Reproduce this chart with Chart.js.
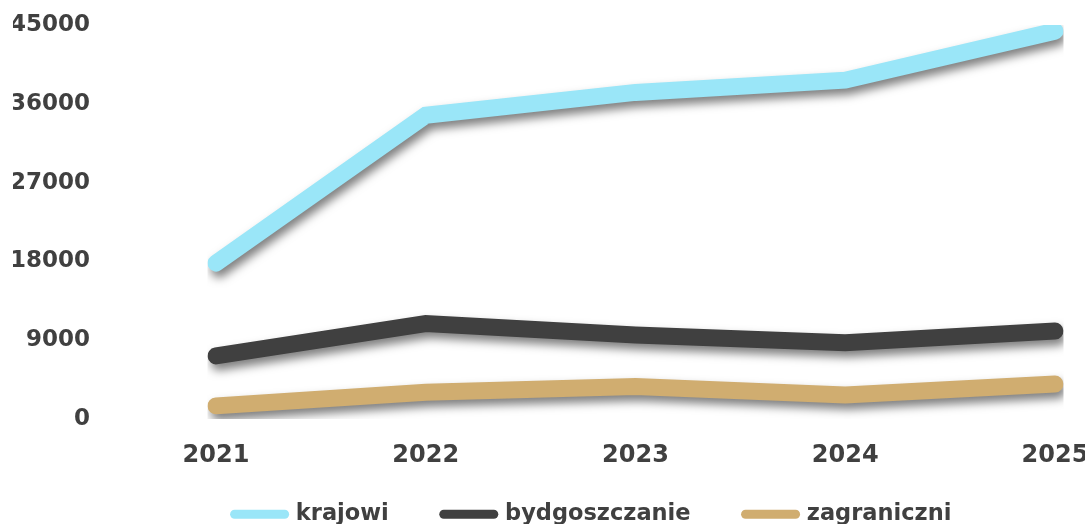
<!DOCTYPE html>
<html>
<head>
<meta charset="utf-8">
<script src="https://cdn.jsdelivr.net/npm/chart.js@4"></script>
<style>
    html, body { margin: 0; padding: 0; background: #fff; overflow: hidden; }
    .chart-wrap { position: relative; width: 1085px; height: 524px; }
</style>
</head>
<body>
<div class="chart-wrap"><canvas id="visitorsChart"></canvas></div>
<script>
// Chart data
const years = ['2021', '2022', '2023', '2024', '2025'];
const krajowi = [17800, 34700, 37300, 38700, 44300];
const bydgoszczanie = [7200, 10900, 9600, 8700, 10050];
const zagraniczni = [1500, 3050, 3700, 2750, 4000];
const yTicks = [0, 9000, 18000, 27000, 36000, 45000];

const textColor = '#404040';
const fontFamily = '"DejaVu Sans", sans-serif';

// Drop shadow under each line
const lineShadow = {
    id: 'lineShadow',
    beforeDatasetDraw(chart) {
        const ctx = chart.ctx;
        ctx.save();
        ctx.shadowColor = 'rgba(0, 0, 0, 0.5)';
        ctx.shadowBlur = 10;
        ctx.shadowOffsetX = 3;
        ctx.shadowOffsetY = 6;
    },
    afterDatasetDraw(chart) {
        chart.ctx.restore();
    }
};

// Move the legend row to where it sits in the design
const legendNudge = {
    id: 'legendNudge',
    afterLayout(chart) {
        const lg = chart.legend;
        const dx = 44, dy = -22;
        lg.left += dx;
        lg.right += dx;
        lg.top += dy;
        lg.bottom = lg.top + 100;
    }
};

function series(label, data, color) {
    return {
        label: label,
        data: data,
        borderColor: color,
        backgroundColor: color,
        borderWidth: 17,
        borderCapStyle: 'round',
        borderJoinStyle: 'miter',
        pointRadius: 0,
        pointHoverRadius: 0,
        pointStyle: 'line',
        tension: 0,
        fill: false
    };
}

new Chart(document.getElementById('visitorsChart'), {
    type: 'line',
    data: {
        labels: years,
        datasets: [
            series('krajowi', krajowi, '#9ae6f8'),
            series('bydgoszczanie', bydgoszczanie, '#404040'),
            series('zagraniczni', zagraniczni, '#d0ad70')
        ]
    },
    options: {
        responsive: true,
        maintainAspectRatio: false,
        animation: false,
        layout: {
            padding: { left: 13, top: 25, right: 0, bottom: 0 }
        },
        plugins: {
            tooltip: { enabled: false },
            legend: {
                position: 'bottom',
                maxHeight: 54,
                labels: {
                    usePointStyle: true,
                    pointStyleWidth: 50,
                    padding: 55,
                    color: textColor,
                    font: { family: fontFamily, size: 22.5, weight: 'bold' },
                    generateLabels(chart) {
                        const items = Chart.defaults.plugins.legend.labels.generateLabels(chart);
                        items.forEach(item => {
                            item.lineWidth = 9;
                            item.lineCap = 'round';
                        });
                        return items;
                    }
                }
            }
        },
        scales: {
            x: {
                offset: false,
                grid: { display: false, drawTicks: false },
                border: { display: false },
                ticks: {
                    padding: 22,
                    color: textColor,
                    maxRotation: 0,
                    font: { family: fontFamily, size: 24, weight: 'bold' }
                },
                afterFit(scale) {
                    scale.height = 51;
                    scale.paddingRight = 30;
                }
            },
            y: {
                min: 0,
                max: 45000,
                grid: { display: false, drawTicks: false },
                border: { display: false },
                afterBuildTicks(scale) {
                    scale.ticks = yTicks.map(v => ({ value: v }));
                },
                ticks: {
                    padding: 126,
                    color: textColor,
                    font: { family: fontFamily, size: 23, weight: 'bold' },
                    callback: v => String(v)
                },
                afterFit(scale) {
                    scale.width = 203;
                    scale.paddingTop = 12;
                    scale.paddingBottom = 12;
                }
            }
        }
    },
    plugins: [lineShadow, legendNudge]
});
</script>
</body>
</html>
